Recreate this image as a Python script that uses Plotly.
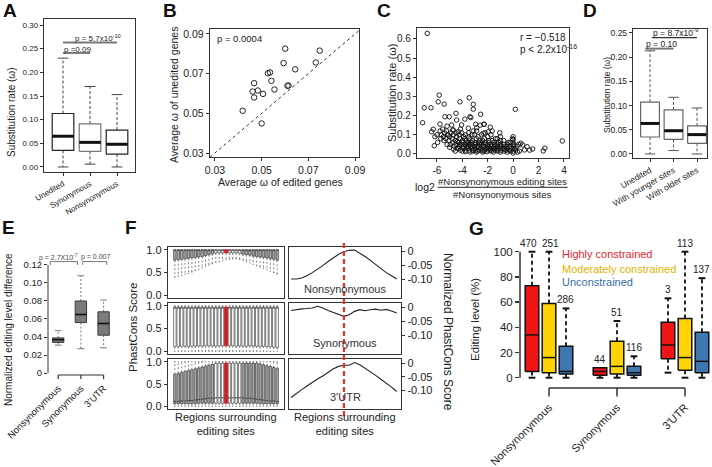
import plotly.graph_objects as go

W, H = 712, 467
FONT = "Liberation Sans, Arial, Helvetica, sans-serif"
INK = "#222222"

# ===================== DATA =====================
# Panel A
A_cats = ["Unedited", "Synonymous", "Nonsynonymous"]
A_low = [0.0, 0.006, 0.0]
A_q1 = [0.035, 0.033, 0.027]
A_med = [0.065, 0.052, 0.048]
A_q3 = [0.113, 0.091, 0.078]
A_high = [0.230, 0.170, 0.153]
A_ticks = [0.00, 0.05, 0.10, 0.15, 0.20, 0.25, 0.30]

# Panel B
B_edited = [0.0419, 0.0468, 0.0461, 0.0484, 0.0468, 0.0506, 0.0500, 0.0527, 0.0536,
            0.0542, 0.0555, 0.0601, 0.0594, 0.0611, 0.0615, 0.0644, 0.0732, 0.0749]
B_unedited = [0.0513, 0.0652, 0.0610, 0.0615, 0.0580, 0.0598, 0.0449, 0.0702, 0.0706,
              0.0664, 0.0620, 0.0826, 0.0753, 0.0639, 0.0640, 0.0722, 0.0756, 0.0816]
B_ticks = [0.03, 0.05, 0.07, 0.09]

# Panel C
C_log2 = [-6.76, -7.0, -6.47, -7.13, -5.82, -5.90, -5.43, -4.19, -3.46, -3.14, -3.14, -2.56, 0.17,
          -5.03, -5.37, -3.40, -3.80, -4.50, -2.30, -2.87, -6.42, -6.29, -6.16, -6.21, -5.76,
          -4.84, -4.45, -4.06, -3.33, -2.95, -2.60, -2.28, -3.53, -4.32, -5.11, -4.72, -2.87, -2.35, -1.96, -1.80,
          -6.0, -5.95, -5.75, -5.7, -5.65, -5.55, -5.5, -5.45, -5.4, -5.3, -5.25, -5.2, -5.15, -5.2,
          -5.05, -5.0, -4.95, -4.9, -5.0, -4.8, -4.75, -4.7, -4.65, -4.75, -4.7,
          -4.55, -4.5, -4.45, -4.4, -4.5, -4.4, -4.55, -4.3, -4.25, -4.2, -4.15, -4.25, -4.2, -4.3, -4.15,
          -4.05, -4.0, -3.95, -3.9, -4.0, -3.95, -4.05, -3.9, -3.8, -3.75, -3.7, -3.65, -3.75, -3.7, -3.8, -3.65, -3.75,
          -3.55, -3.5, -3.45, -3.4, -3.5, -3.45, -3.55, -3.4, -3.5, -3.3, -3.25, -3.2, -3.15, -3.25, -3.2, -3.3, -3.15, -3.2,
          -3.05, -3.0, -2.95, -2.9, -3.0, -2.95, -3.05, -2.9, -2.8, -2.75, -2.7, -2.65, -2.75, -2.7, -2.8, -2.65,
          -2.55, -2.5, -2.45, -2.4, -2.5, -2.45, -2.55, -2.4, -2.3, -2.25, -2.2, -2.15, -2.25, -2.2, -2.3, -2.15,
          -2.05, -2.0, -1.95, -1.9, -2.0, -1.95, -2.05, -1.9, -1.8, -1.75, -1.7, -1.65, -1.75, -1.7, -1.8, -1.65,
          -1.55, -1.5, -1.45, -1.4, -1.5, -1.45, -1.55, -1.4, -1.3, -1.25, -1.2, -1.15, -1.25, -1.2, -1.3,
          -1.05, -1.0, -0.95, -1.0, -1.0, -0.95, -1.05, -1.0, -0.8, -0.75, -0.7, -0.65, -0.75, -0.7,
          -0.55, -0.5, -0.45, -0.4, -0.5, -0.45, -0.3, -0.25, -0.2, -0.15, -0.25,
          0.0, 0.0, 0.0, 0.0, 0.0, 0.0, 0.0, 0.05, -0.05,
          0.2, 0.3, 0.45, 0.6, 0.75, 0.9, 1.1, 0.15, 0.5, 0.35, 1.54, 2.37, 2.5, 3.87, 1.3]
C_omega = [0.629, 0.241, 0.241, 0.163, 0.307, 0.272, 0.260, 0.272, 0.293, 0.259, 0.234, 0.207, 0.233,
           0.194, 0.194, 0.194, 0.182, 0.212, 0.155, 0.137, 0.116, 0.129, 0.090, 0.043, 0.156,
           0.151, 0.177, 0.151, 0.190, 0.155, 0.150, 0.155, 0.134, 0.116, 0.099, 0.125, 0.120, 0.108, 0.116, 0.140,
           0.10, 0.06, 0.12, 0.08, 0.10, 0.13, 0.09, 0.07, 0.11, 0.08, 0.12, 0.05, 0.10, 0.145,
           0.07, 0.09, 0.05, 0.11, 0.035, 0.08, 0.06, 0.10, 0.04, 0.125, 0.025,
           0.07, 0.05, 0.09, 0.03, 0.11, 0.065, 0.015, 0.06, 0.04, 0.08, 0.02, 0.10, 0.05, 0.03, 0.13,
           0.05, 0.07, 0.03, 0.09, 0.015, 0.06, 0.11, 0.04, 0.05, 0.02, 0.07, 0.04, 0.10, 0.03, 0.08, 0.06, 0.012,
           0.04, 0.06, 0.02, 0.08, 0.11, 0.05, 0.03, 0.01, 0.09, 0.05, 0.03, 0.07, 0.02, 0.10, 0.04, 0.06, 0.12, 0.015,
           0.04, 0.06, 0.02, 0.08, 0.03, 0.05, 0.10, 0.01, 0.04, 0.06, 0.02, 0.07, 0.09, 0.035, 0.015, 0.05,
           0.03, 0.05, 0.02, 0.07, 0.10, 0.04, 0.06, 0.01, 0.04, 0.02, 0.06, 0.03, 0.08, 0.11, 0.015, 0.05,
           0.03, 0.05, 0.02, 0.07, 0.09, 0.04, 0.012, 0.06, 0.03, 0.05, 0.015, 0.07, 0.10, 0.04, 0.02, 0.12,
           0.03, 0.05, 0.02, 0.08, 0.06, 0.035, 0.01, 0.045, 0.03, 0.05, 0.015, 0.06, 0.08, 0.04, 0.02,
           0.03, 0.05, 0.02, 0.07, 0.09, 0.04, 0.11, 0.01, 0.03, 0.05, 0.015, 0.04, 0.07, 0.025,
           0.02, 0.04, 0.01, 0.06, 0.03, 0.05, 0.02, 0.04, 0.015, 0.03, 0.06,
           0.09, 0.075, 0.06, 0.045, 0.03, 0.015, 0.005, 0.05, 0.08,
           0.02, 0.04, 0.05, 0.056, 0.047, 0.021, 0.038, 0.03, 0.015, 0.01, 0.026, 0.016, 0.03, 0.068, 0.02]
C_xticks = [-6, -4, -2, 0, 2, 4]
C_yticks = [0.0, 0.1, 0.2, 0.3, 0.4, 0.5, 0.6]

# Panel D
D_cats = ["Unedited", "With younger sites", "With older sites"]
D_low = [0.0, 0.007, 0.0]
D_q1 = [0.035, 0.030, 0.022]
D_med = [0.063, 0.048, 0.040]
D_q3 = [0.107, 0.091, 0.058]
D_high = [0.213, 0.117, 0.095]
D_ticks = [0.00, 0.05, 0.10, 0.15, 0.20, 0.25]

# Panel E
E_cats = ["Nonsynonymous", "Synonymous", "3'UTR"]
E_low = [0.031, 0.027, 0.028]
E_q1 = [0.034, 0.056, 0.042]
E_med = [0.037, 0.065, 0.055]
E_q3 = [0.039, 0.080, 0.068]
E_high = [0.047, 0.108, 0.081]
E_ticks = [0, 0.02, 0.04, 0.06, 0.08, 0.10, 0.12]

# Panel F (left: PhastCons boxplots along positions; right: normalized lines)
F_pos = list(range(-15, 16))
F1_low = [0.40, 0.42, 0.44, 0.46, 0.48, 0.51, 0.54, 0.57, 0.60, 0.63, 0.66, 0.69, 0.72, 0.74, 0.76,
          0.78, 0.79, 0.80, 0.80, 0.79, 0.77, 0.74, 0.71, 0.68, 0.65, 0.62, 0.59, 0.56, 0.53, 0.50, 0.47]
F1_q1 = [0.77, 0.78, 0.79, 0.80, 0.81, 0.82, 0.83, 0.84, 0.85, 0.87, 0.89, 0.91, 0.93, 0.93, 0.93,
         0.93, 0.93, 0.93, 0.93, 0.92, 0.90, 0.89, 0.88, 0.86, 0.85, 0.84, 0.83, 0.82, 0.80, 0.79, 0.77]
F1_med = [0.99, 0.99, 0.99, 0.99, 0.99, 0.99, 0.99, 0.99, 0.99, 0.99, 0.99, 0.99, 0.99, 0.99, 0.99,
          0.99, 0.99, 0.99, 0.99, 0.99, 0.99, 0.99, 0.99, 0.99, 0.99, 0.99, 0.99, 0.99, 0.99, 0.99, 0.99]
F1_q3 = [1.0, 1.0, 1.0, 1.0, 1.0, 1.0, 1.0, 1.0, 1.0, 1.0, 1.0, 1.0, 1.0, 1.0, 1.0,
         1.0, 1.0, 1.0, 1.0, 1.0, 1.0, 1.0, 1.0, 1.0, 1.0, 1.0, 1.0, 1.0, 1.0, 1.0, 1.0]
F1_high = [1.0, 1.0, 1.0, 1.0, 1.0, 1.0, 1.0, 1.0, 1.0, 1.0, 1.0, 1.0, 1.0, 1.0, 1.0,
           1.0, 1.0, 1.0, 1.0, 1.0, 1.0, 1.0, 1.0, 1.0, 1.0, 1.0, 1.0, 1.0, 1.0, 1.0, 1.0]

F2_low = [0.0, 0.0, 0.0, 0.0, 0.0, 0.0, 0.0, 0.0, 0.0, 0.0, 0.0, 0.0, 0.0, 0.0, 0.0,
          0.0, 0.0, 0.0, 0.0, 0.0, 0.0, 0.0, 0.0, 0.0, 0.0, 0.0, 0.0, 0.0, 0.0, 0.0, 0.0]
F2_q1 = [0.10, 0.10, 0.11, 0.11, 0.10, 0.11, 0.11, 0.12, 0.11, 0.12, 0.12, 0.12, 0.11, 0.12, 0.12,
         0.12, 0.12, 0.12, 0.11, 0.12, 0.11, 0.11, 0.12, 0.11, 0.11, 0.10, 0.11, 0.10, 0.10, 0.09, 0.08]
F2_med = [0.95, 0.95, 0.95, 0.95, 0.95, 0.95, 0.95, 0.95, 0.95, 0.95, 0.95, 0.95, 0.95, 0.95, 0.95,
          0.95, 0.95, 0.95, 0.95, 0.95, 0.95, 0.95, 0.95, 0.95, 0.95, 0.95, 0.95, 0.95, 0.95, 0.95, 0.95]
F2_q3 = [0.97, 0.97, 0.97, 0.97, 0.97, 0.97, 0.97, 0.97, 0.97, 0.97, 0.97, 0.97, 0.97, 0.97, 0.97,
         0.97, 0.97, 0.97, 0.97, 0.97, 0.97, 0.97, 0.97, 0.97, 0.97, 0.97, 0.97, 0.97, 0.97, 0.97, 0.97]
F2_high = [1.0, 1.0, 1.0, 1.0, 1.0, 1.0, 1.0, 1.0, 1.0, 1.0, 1.0, 1.0, 1.0, 1.0, 1.0,
           1.0, 1.0, 1.0, 1.0, 1.0, 1.0, 1.0, 1.0, 1.0, 1.0, 1.0, 1.0, 1.0, 1.0, 1.0, 1.0]

F3_low = [0.0, 0.0, 0.0, 0.0, 0.0, 0.0, 0.0, 0.0, 0.0, 0.0, 0.0, 0.0, 0.0, 0.0, 0.0,
          0.0, 0.0, 0.0, 0.0, 0.0, 0.0, 0.0, 0.0, 0.0, 0.0, 0.0, 0.0, 0.0, 0.0, 0.0, 0.0]
F3_q1 = [0.06, 0.06, 0.06, 0.06, 0.06, 0.06, 0.06, 0.07, 0.07, 0.07, 0.07, 0.07, 0.07, 0.07, 0.07,
         0.07, 0.07, 0.07, 0.07, 0.07, 0.07, 0.07, 0.07, 0.07, 0.07, 0.06, 0.06, 0.06, 0.06, 0.06, 0.06]
F3_med = [0.11, 0.11, 0.12, 0.12, 0.13, 0.13, 0.14, 0.15, 0.16, 0.17, 0.18, 0.18, 0.19, 0.19, 0.19,
          0.19, 0.19, 0.19, 0.19, 0.19, 0.19, 0.18, 0.18, 0.17, 0.16, 0.15, 0.14, 0.13, 0.12, 0.12, 0.11]
F3_q3 = [0.72, 0.74, 0.76, 0.78, 0.80, 0.82, 0.84, 0.86, 0.88, 0.90, 0.92, 0.94, 0.96, 0.97, 0.97,
         0.97, 0.97, 0.97, 0.97, 0.97, 0.97, 0.97, 0.97, 0.97, 0.97, 0.95, 0.93, 0.91, 0.89, 0.87, 0.85]
F3_high = [1.0, 1.0, 1.0, 1.0, 1.0, 1.0, 1.0, 1.0, 1.0, 1.0, 1.0, 1.0, 1.0, 1.0, 1.0,
           1.0, 1.0, 1.0, 1.0, 1.0, 1.0, 1.0, 1.0, 1.0, 1.0, 1.0, 1.0, 1.0, 1.0, 1.0, 1.0]
F_left_ticks = [0.0, 0.5, 1.0]

F_line_pos = list(range(-10, 11))
F_nonsyn_line = [-0.100, -0.100, -0.096, -0.088, -0.077, -0.066, -0.052, -0.037, -0.024, -0.011, -0.002,
                 0.003, 0.004, -0.006, -0.019, -0.033, -0.048, -0.062, -0.077, -0.088, -0.100]
F_syn_line = [-0.012, -0.008, -0.006, -0.005, -0.003, 0.003, -0.003, -0.012, -0.019, -0.027, -0.033,
              -0.027, -0.015, -0.009, -0.013, -0.009, -0.007, -0.011, -0.008, -0.014, -0.021]
F_utr_line = [-0.126, -0.110, -0.097, -0.084, -0.070, -0.058, -0.047, -0.033, -0.021, -0.012, -0.008,
              -0.008, 0.002, -0.006, -0.018, -0.031, -0.045, -0.059, -0.072, -0.088, -0.104]
F_right_ticks = [0, -0.05, -0.10]
F_right_ticktext = ["0", "-0.05", "-0.10"]

# Panel G (rows: Highly, Moderately, Unconstrained; columns: Nonsyn, Syn, 3'UTR)
G_groups = ["Nonsynonymous", "Synonymous", "3'UTR"]
G_levels = ["Highly constrained", "Moderately constrained", "Unconstrained"]
G_low = [[0, 0, 4], [0, 0, 0], [0, 0, 0]]
G_q1 = [[5, 2, 15], [4, 3, 6], [3, 2, 4]]
G_med = [[34, 5, 26], [16, 9, 16], [5, 4, 13]]
G_q3 = [[73, 8, 44], [59, 29, 47], [25, 9, 36]]
G_high = [[100, 8, 63], [100, 45, 100], [55, 17, 79]]
G_n = [[470, 44, 3], [251, 51, 113], [286, 116, 137]]
G_ticks = [0, 20, 40, 60, 80, 100]

# ===================== HELPERS =====================
fig = go.Figure()


def aid(n):
    return "" if n == 1 else str(n)


def tr(x, y, n, **kw):
    fig.add_trace(go.Scatter(x=x, y=y, xaxis="x" + aid(n), yaxis="y" + aid(n),
                             showlegend=False, hoverinfo="skip", **kw))


def boxes(n, pos, low, q1, med, q3, high, width, fill, lc, lw, mc, mw, wc, ww, dash, cap, cap_lw=None):
    cap_lw = cap_lw if cap_lw is not None else ww
    wx, wy, cx, cy = [], [], [], []
    for p, lo, a, b, hi in zip(pos, low, q1, q3, high):
        if hi > b:
            wx += [p, p, None]; wy += [b, hi, None]
            cx += [p - cap / 2, p + cap / 2, None]; cy += [hi, hi, None]
        if lo < a:
            wx += [p, p, None]; wy += [a, lo, None]
            cx += [p - cap / 2, p + cap / 2, None]; cy += [lo, lo, None]
    if wx:
        tr(wx, wy, n, mode="lines", line=dict(color=wc, width=ww, dash=dash))
        if cap > 0:
            tr(cx, cy, n, mode="lines", line=dict(color=wc, width=cap_lw))
    bx, by = [], []
    for p, a, b in zip(pos, q1, q3):
        bx += [p - width / 2, p + width / 2, p + width / 2, p - width / 2, p - width / 2, None]
        by += [a, a, b, b, a, None]
    tr(bx, by, n, mode="lines", fill="toself", fillcolor=fill, line=dict(color=lc, width=lw))
    mx, my = [], []
    for p, m in zip(pos, med):
        mx += [p - width / 2, p + width / 2, None]; my += [m, m, None]
    tr(mx, my, n, mode="lines", line=dict(color=mc, width=mw))


def sub(lst, idx):
    return [lst[i] for i in idx]


annotations = []
shapes = []


def ann(text, x, y, size, color=INK, xanchor="center", yanchor="middle", angle=0, **kw):
    annotations.append(dict(text=text, x=x / W, y=1 - y / H, xref="paper", yref="paper",
                            showarrow=False, textangle=angle, xanchor=xanchor, yanchor=yanchor,
                            font=dict(size=size, color=color, family=FONT), **kw))


def dann(text, x, y, n, size, color=INK, **kw):
    d = dict(text=text, x=x, y=y, xref="x" + aid(n), yref="y" + aid(n), showarrow=False,
             font=dict(size=size, color=color, family=FONT))
    d.update(kw)
    annotations.append(d)


# ===================== PANEL A =====================
A_pos = [1, 2, 3]
A_lc = ["#222222", "#777777", "#222222"]
for i in range(3):
    boxes(1, [A_pos[i]], [A_low[i]], [A_q1[i]], [A_med[i]], [A_q3[i]], [A_high[i]],
          0.8, "white", A_lc[i], 1.2, "#111111", 3, "#444444", 1, "3px,2px", 0.4)
tr([1, 2], [0.241, 0.241], 1, mode="lines", line=dict(color="#777777", width=2))
tr([1, 3], [0.263, 0.263], 1, mode="lines", line=dict(color="#777777", width=2))
dann("p =0.09", 1.54, 0.249, 1, 8)
dann("p = 5.7x10<sup>-10</sup>", 2.28, 0.273, 1, 8)

# ===================== PANEL B =====================
tr([0.0279, 0.0917], [0.0279, 0.0917], 2, mode="lines", line=dict(color="#333333", width=1, dash="3px,3px"))
tr(B_edited, B_unedited, 2, mode="markers",
   marker=dict(symbol="circle-open", size=5.5, color="#222222", line=dict(width=1, color="#222222")))

# ===================== PANEL C =====================
tr(C_log2, C_omega, 3, mode="markers",
   marker=dict(symbol="circle-open", size=4.5, color="#111111", line=dict(width=0.9, color="#111111")))

# ===================== PANEL D =====================
D_pos = [1, 2, 3]
boxes(4, D_pos, D_low, D_q1, D_med, D_q3, D_high, 0.8, "white", "#666666", 1.2,
      "#111111", 3, "#555555", 1, "3px,2px", 0.45)
tr([0.8, 2.0], [0.2175, 0.2175], 4, mode="lines", line=dict(color="#777777", width=2))
tr([1.08, 3.0], [0.240, 0.240], 4, mode="lines", line=dict(color="#333333", width=1.2))
dann("p = 0.10", 1.5, 0.228, 4, 8.5)
dann("p = 8.7x10<sup>-9</sup>", 2.1, 0.250, 4, 8.5)

# ===================== PANEL E =====================
E_pos = [1, 2, 3]
boxes(5, E_pos, E_low, E_q1, E_med, E_q3, E_high, 0.5, "#7b7b7b", "#3a3a3a", 1,
      "#111111", 1.6, "#555555", 0.8, "2px,2px", 0.3)
tr([1, 3, None, 1, 1, None, 2, 2, None, 3, 3],
   [-0.0022, -0.0022, None, -0.0022, -0.0068, None, -0.0022, -0.0068, None, -0.0022, -0.0068],
   5, mode="lines", line=dict(color="#333333", width=1.2))
tr([0.65, 0.65, 1.85, 1.85, None, 2.08, 2.08, 3.14, 3.14],
   [0.1200, 0.1238, 0.1238, 0.1200, None, 0.1200, 0.1238, 0.1238, 0.1200],
   5, mode="lines", line=dict(color="#555555", width=0.8))
dann("p = 2.7X10<sup>-7</sup>", 1.02, 0.1285, 5, 7, color="#444444")
dann("p = 0.007", 2.65, 0.1285, 5, 7, color="#444444")
shapes.append(dict(type="line", xref="x5 domain", yref="y5", x0=0, x1=0, y0=0, y1=0.12,
                   line=dict(color="#333333", width=1)))

# ===================== PANEL F =====================
F_data = [(F1_low, F1_q1, F1_med, F1_q3, F1_high),
          (F2_low, F2_q1, F2_med, F2_q3, F2_high),
          (F3_low, F3_q1, F3_med, F3_q3, F3_high)]
RED = "#c8202a"
for k, (lo, a, m, b, hi) in enumerate(F_data):
    n = 6 + k
    idx_red = [i for i, p in enumerate(F_pos) if p == 0]
    if k == 1:
        idx_white = [i for i, p in enumerate(F_pos) if p != 0]
        idx_gray = []
    else:
        idx_white = [i for i, p in enumerate(F_pos) if p != 0 and -3 <= p <= 4]
        idx_gray = [i for i, p in enumerate(F_pos) if p < -3 or p > 4]
    for idx, fillc in ((idx_gray, "#a8a8a8"), (idx_white, "white")):
        if not idx:
            continue
        boxes(n, sub(F_pos, idx), sub(lo, idx), sub(a, idx), sub(m, idx), sub(b, idx), sub(hi, idx),
              0.72, fillc, "#1a1a1a", 0.55, "#333333", 0.9, "#333333", 0.6, "2px,2px", 0.4, 0.6)
    boxes(n, sub(F_pos, idx_red), sub(lo, idx_red), sub(a, idx_red), sub(m, idx_red), sub(b, idx_red),
          sub(hi, idx_red), 1.0, RED, RED, 0.8, RED, 1, "#333333", 0.6, "2px,2px", 0.4, 0.6)

for k, line in enumerate([F_nonsyn_line, F_syn_line, F_utr_line]):
    tr(F_line_pos, line, 9 + k, mode="lines", line=dict(color="#222222", width=1.1))
shapes.append(dict(type="line", xref="x9", yref="paper", x0=0, x1=0, y0=1 - 416 / H, y1=1 - 240 / H,
                   line=dict(color="#e8302e", width=2.2, dash="5px,3px")))

# ===================== PANEL G =====================
G_fill = ["#f01515", "#ffd400", "#3f78b0"]
G_text = ["#e8262b", "#e0b400", "#3a6ea5"]
G_nshift = [[-4, 0, 0], [1, 0, 0], [0, 0, 0]]
for i in range(3):
    pos = [4 * g + i + 1 for g in range(3)]
    boxes(12, pos, G_low[i], G_q1[i], G_med[i], G_q3[i], G_high[i], 0.8, G_fill[i], "#111111", 1.5,
          "#111111", 1.5, "#111111", 1.8, "4px,3px", 0.4, 2)
    for g in range(3):
        dann(str(G_n[i][g]), pos[g], G_high[i][g], 12, 10, yanchor="bottom", yshift=1,
             xshift=G_nshift[i][g])
tr([2, 10, None, 2, 2, None, 6, 6, None, 10, 10],
   [-8.2, -8.2, None, -8.2, -15, None, -8.2, -15, None, -8.2, -15],
   12, mode="lines", line=dict(color="#333333", width=1.5))
shapes.append(dict(type="line", xref="x12 domain", yref="y12", x0=0, x1=0, y0=0, y1=100,
                   line=dict(color="#333333", width=1.5)))

# ===================== AXES =====================
TK = dict(ticks="outside", ticklen=3, tickcolor="#333333", tickwidth=1)
FRAME = dict(showline=True, mirror=True, linecolor="#333333", linewidth=1.2)
BASE = dict(showgrid=False, zeroline=False, fixedrange=True, automargin=False)


def tf(size):
    return dict(size=size, family=FONT, color=INK)


def xax(n, x0, x1, rng, **kw):
    d = dict(BASE, domain=[x0 / W, x1 / W], range=rng, anchor="y" + aid(n))
    d.update(kw)
    return d


def yax(n, y0, y1, rng, **kw):
    d = dict(BASE, domain=[1 - y1 / H, 1 - y0 / H], range=rng, anchor="x" + aid(n))
    d.update(kw)
    return d


layout_axes = {}
# A
layout_axes["xaxis"] = xax(1, 44, 135, [0.296, 3.666], tickvals=A_pos, ticktext=A_cats, tickangle=-30,
                           tickfont=tf(8), **FRAME, **TK)
layout_axes["yaxis"] = yax(1, 19, 172, [-0.0106, 0.3127], tickvals=A_ticks,
                           ticktext=["%.2f" % v for v in A_ticks], tickfont=tf(8), **FRAME, **TK)
# B
layout_axes["xaxis2"] = xax(2, 210, 359, [0.0279, 0.0917], tickvals=B_ticks,
                            ticktext=["%.2f" % v for v in B_ticks], tickfont=tf(10.5), **FRAME, **TK)
layout_axes["yaxis2"] = yax(2, 29, 157, [0.028, 0.0925], tickvals=B_ticks,
                            ticktext=["%.2f" % v for v in B_ticks], tickfont=tf(10.5), **FRAME, **TK)
# C
layout_axes["xaxis3"] = xax(3, 417, 569, [-7.57, 4.4], tickvals=C_xticks,
                            ticktext=[str(v) for v in C_xticks], tickfont=tf(10), **FRAME, **TK)
layout_axes["yaxis3"] = yax(3, 28, 158, [-0.021, 0.657], tickvals=C_yticks,
                            ticktext=["%.1f" % v for v in C_yticks], tickfont=tf(10), **FRAME, **TK)
# D
layout_axes["xaxis4"] = xax(4, 633, 707, [0.275, 3.425], tickvals=D_pos, ticktext=D_cats, tickangle=-30,
                            tickfont=tf(8.5), **FRAME, **TK)
layout_axes["yaxis4"] = yax(4, 29, 158, [-0.0083, 0.258], tickvals=D_ticks,
                            ticktext=["%.2f" % v for v in D_ticks], tickfont=tf(8.5), **FRAME, **TK)
# E
layout_axes["xaxis5"] = xax(5, 48, 118, [0.551, 3.635], tickvals=E_pos, ticktext=E_cats, tickangle=-45,
                            tickfont=tf(9.5), showline=False, ticks="")
layout_axes["yaxis5"] = yax(5, 255, 380, [-0.00778, 0.1311], tickvals=E_ticks,
                            ticktext=["0" if v == 0 else "%.2f" % v for v in E_ticks],
                            tickfont=tf(9.5), showline=False, **TK)
# F
F_rows = [(247, 298), (303, 354), (359, 409)]
for k, (y0, y1) in enumerate(F_rows):
    n = 6 + k
    layout_axes["xaxis%d" % n] = xax(n, 168, 284, [-17, 17], showticklabels=False, ticks="", **FRAME)
    layout_axes["yaxis%d" % n] = yax(n, y0, y1, [-0.06, 1.06], tickvals=F_left_ticks,
                                     ticktext=["%.1f" % v for v in F_left_ticks], tickfont=tf(11),
                                     **FRAME, **TK)
    n = 9 + k
    layout_axes["xaxis%d" % n] = xax(n, 289, 401, [-10.4, 10.8], showticklabels=False, ticks="", **FRAME)
    layout_axes["yaxis%d" % n] = yax(n, y0, y1, [-0.168, 0.015], side="right", tickvals=F_right_ticks,
                                     ticktext=F_right_ticktext, tickfont=tf(11), **FRAME, **TK)
# G
layout_axes["xaxis12"] = xax(12, 520, 712, [0.294, 11.59], tickvals=[2, 6, 10], ticktext=G_groups,
                             tickangle=-45, tickfont=tf(11), showline=False, ticks="")
layout_axes["yaxis12"] = yax(12, 240, 398, [-16.1, 109.3], tickvals=G_ticks,
                             ticktext=[str(v) for v in G_ticks], tickfont=tf(11.5), showline=False,
                             ticks="outside", ticklen=4, tickcolor="#333333", tickwidth=1.5)

# ===================== TEXT =====================
for letter, x, y in [("A", 10, 11), ("B", 170, 11), ("C", 384, 10), ("D", 590, 10),
                     ("E", 8, 227), ("F", 131, 227), ("G", 476, 228)]:
    ann("<b>%s</b>" % letter, x, y, 19, color="#111111")

ann("Substitution rate (ω)", 11, 112, 10, angle=-90)
ann("Average ω of unedited genes", 174, 95, 10.5, angle=-90)
ann("Average ω of edited genes", 280, 182, 10.5)
ann("p = 0.0004", 215, 39, 9.5, xanchor="left")
ann("Substitution rate (ω)", 392, 93, 11, angle=-90)
ann("r = −0.518", 518, 38, 10, xanchor="left")
ann("p &lt; 2.2x10<sup>-16</sup>", 518, 48.5, 10, xanchor="left")
ann("log2", 425, 187, 10.5)
ann("#Nonsynonymous editing sites", 502, 181, 9.5)
ann("#Nonsynonymous sites", 502, 194, 9.5)
shapes.append(dict(type="line", xref="paper", yref="paper", x0=437.7 / W, x1=567.7 / W,
                   y0=1 - 187.3 / H, y1=1 - 187.3 / H, line=dict(color="#222222", width=1)))
ann("Substitution rate (ω)", 607, 95, 8.5, angle=-90)
ann("Normalized editing level difference", 8, 330, 10, angle=-90)
ann("PhastCons Score", 133, 327, 11.5, angle=-90)
ann("Normalized PhastCons Score", 448, 332, 12, angle=90)
ann("Regions surrounding<br>editing sites", 226, 424, 11)
ann("Regions surrounding<br>editing sites", 345, 424, 11)
ann("Nonsynonymous", 345, 289, 11, color="#333333")
ann("Synonymous", 345, 342.7, 11, color="#333333")
ann("3'UTR", 345, 396.7, 11, color="#333333")
ann("Editing level (%)", 475, 320, 11.5, angle=-90)
for i, (lvl, y) in enumerate(zip(G_levels, [254.3, 268.7, 281.7])):
    ann(lvl, 560, y, 11, color=G_text[i], xanchor="left")

fig.update_layout(width=W, height=H, margin=dict(l=0, r=0, t=0, b=0, autoexpand=False),
                  paper_bgcolor="white", plot_bgcolor="white",
                  font=dict(family=FONT, color=INK), showlegend=False,
                  annotations=annotations, shapes=shapes, **layout_axes)

fig.write_html("out.html", config={"displayModeBar": False, "staticPlot": True},
               post_script="document.body.style.margin='0px';")
